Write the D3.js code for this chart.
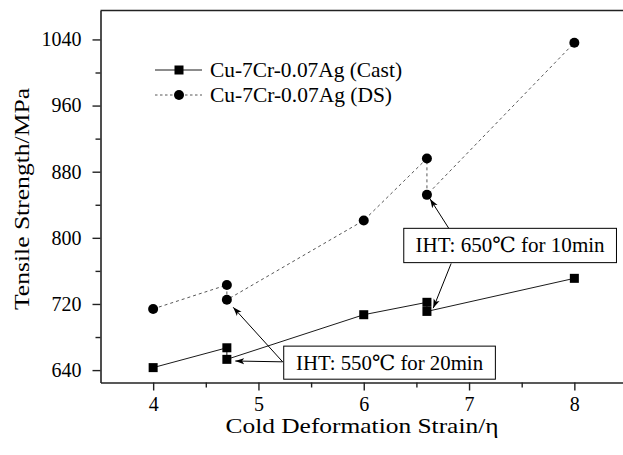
<!DOCTYPE html>
<html lang="en">
<head>
<meta charset="utf-8">
<title></title>
<script src="https://cdn.jsdelivr.net/npm/d3@7/dist/d3.min.js"></script>
<style>
  body { margin: 0; background: #fff; }
  svg text { font-family: "Liberation Serif", "Times New Roman", "DejaVu Serif", serif; fill: #000; }
</style>
</head>
<body>
<svg width="623" height="455"></svg>
<script>
// data
var castStrain = [4, 4.7, 4.7, 6, 6.6, 6.6, 8];
var castStrength = [643, 667, 653, 707, 722, 711, 751];
var dsStrain = [4, 4.7, 4.7, 6, 6.6, 6.6, 8];
var dsStrength = [714, 743, 725, 821, 896, 852, 1036];
var xTicks = [4, 5, 6, 7, 8];
var yTicks = [640, 720, 800, 880, 960, 1040];
var seriesNames = ['Cu-7Cr-0.07Ag (Cast)', 'Cu-7Cr-0.07Ag (DS)'];

// annotation boxes and arrows, in data units
var noteBoxes = [
  {label: 'IHT: 550\u2103 for 20min', x0: 5.24, x1: 7.25, y0: 629, y1: 669, w: 187},
  {label: 'IHT: 650\u2103 for 10min', x0: 6.38, x1: 8.40, y0: 770, y1: 811.5, w: 189}
];
var noteArrows = [
  {x0: 5.23, y0: 650, x1: 4.78, y1: 651},
  {x0: 5.23, y0: 650, x1: 4.76, y1: 716},
  {x0: 6.81, y0: 811, x1: 6.63, y1: 847},
  {x0: 6.83, y0: 769, x1: 6.66, y1: 715}
];

var svg = d3.select('svg');
var x = d3.scaleLinear().domain([3.5, 8.5]).range([100.5, 627]);
var y = d3.scaleLinear().domain([625, 1075]).range([382.5, 10.5]);

// frame: top line, left and bottom axes (no right edge, it runs off the picture)
svg.append('line').attr('x1', x(3.5)).attr('x2', 623).attr('y1', y(1075)).attr('y2', y(1075))
  .attr('stroke', '#222').attr('stroke-width', 1.6);

var xAxis = svg.append('g').attr('transform', 'translate(0,' + y(625) + ')')
  .call(d3.axisBottom(x).tickValues(xTicks).tickFormat(d3.format('d')).tickSize(8).tickSizeOuter(0));
svg.append('g').attr('transform', 'translate(0,' + y(625) + ')')
  .call(d3.axisBottom(x).tickValues([4.5, 5.5, 6.5, 7.5]).tickFormat('').tickSize(5).tickSizeOuter(0))
  .select('.domain').remove();
var yAxis = svg.append('g').attr('transform', 'translate(' + x(3.5) + ',0)')
  .call(d3.axisLeft(y).tickValues(yTicks).tickFormat(d3.format('d')).tickSize(8).tickSizeOuter(0));
svg.append('g').attr('transform', 'translate(' + x(3.5) + ',0)')
  .call(d3.axisLeft(y).tickValues([680, 760, 840, 920, 1000]).tickFormat('').tickSize(5).tickSizeOuter(0))
  .select('.domain').remove();

svg.selectAll('.domain').attr('stroke', '#222').attr('stroke-width', 1.6);
svg.selectAll('.tick line').attr('stroke', '#222').attr('stroke-width', 1.4);
xAxis.selectAll('.tick text').attr('font-size', 20).attr('y', 28.5).attr('dy', 0);
yAxis.selectAll('.tick text').attr('font-size', 20).attr('x', -19);

// axis titles
svg.append('text').attr('x', 362).attr('y', 433).attr('text-anchor', 'middle')
  .attr('font-size', 21).attr('textLength', 273).attr('lengthAdjust', 'spacingAndGlyphs')
  .text('Cold Deformation Strain/\u03b7');
svg.append('text').attr('transform', 'translate(29,199) rotate(-90)').attr('text-anchor', 'middle')
  .attr('font-size', 22).attr('textLength', 222).attr('lengthAdjust', 'spacingAndGlyphs')
  .text('Tensile Strength/MPa');

// series lines
var cast = castStrain.map((d, i) => ({x: d, y: castStrength[i]}));
var ds = dsStrain.map((d, i) => ({x: d, y: dsStrength[i]}));
var line = d3.line().x(d => x(d.x)).y(d => y(d.y));

svg.append('path').datum(cast).attr('d', line)
  .attr('fill', 'none').attr('stroke', '#000').attr('stroke-width', 0.9);
svg.append('path').datum(ds).attr('d', line)
  .attr('fill', 'none').attr('stroke', '#444').attr('stroke-width', 0.9).attr('stroke-dasharray', '3,3');

svg.selectAll('rect.cast').data(cast).enter().append('rect').attr('class', 'cast')
  .attr('x', d => x(d.x) - 4.5).attr('y', d => y(d.y) - 4.5)
  .attr('width', 9).attr('height', 9).attr('fill', '#000');
svg.selectAll('circle.ds').data(ds).enter().append('circle').attr('class', 'ds')
  .attr('cx', d => x(d.x)).attr('cy', d => y(d.y)).attr('r', 5).attr('fill', '#000');

// legend
var legendWidths = [192, 182];
var legend = svg.append('g');
seriesNames.forEach((name, i) => {
  var ly = 70 + i * 25;
  legend.append('line').attr('x1', 155).attr('x2', 202).attr('y1', ly).attr('y2', ly)
    .attr('stroke', i ? '#444' : '#000').attr('stroke-width', 0.9)
    .attr('stroke-dasharray', i ? '2.5,2.5' : null);
  if (i) legend.append('circle').attr('cx', 179).attr('cy', ly).attr('r', 5).attr('fill', '#000');
  else legend.append('rect').attr('x', 174.5).attr('y', ly - 4.5).attr('width', 9).attr('height', 9).attr('fill', '#000');
  legend.append('text').attr('x', 210).attr('y', ly + 6.5).attr('font-size', 21)
    .attr('textLength', legendWidths[i]).attr('lengthAdjust', 'spacingAndGlyphs').text(name);
});

// annotations
svg.append('defs').append('marker').attr('id', 'arr')
  .attr('viewBox', '0 0 10 10').attr('refX', 10).attr('refY', 5)
  .attr('markerWidth', 9).attr('markerHeight', 9).attr('markerUnits', 'userSpaceOnUse')
  .attr('orient', 'auto')
  .append('path').attr('d', 'M0,1.5 L10,5 L0,8.5 L2.5,5 Z').attr('fill', '#000');

svg.selectAll('line.note').data(noteArrows).enter().append('line').attr('class', 'note')
  .attr('x1', d => x(d.x0)).attr('y1', d => y(d.y0))
  .attr('x2', d => x(d.x1)).attr('y2', d => y(d.y1))
  .attr('stroke', '#000').attr('stroke-width', 1).attr('marker-end', 'url(#arr)');

var boxes = svg.selectAll('g.note').data(noteBoxes).enter().append('g').attr('class', 'note');
boxes.append('rect')
  .attr('x', d => x(d.x0)).attr('y', d => y(d.y1))
  .attr('width', d => x(d.x1) - x(d.x0)).attr('height', d => y(d.y0) - y(d.y1))
  .attr('fill', '#fff').attr('stroke', '#000').attr('stroke-width', 1);
boxes.append('text')
  .attr('x', d => (x(d.x0) + x(d.x1)) / 2).attr('y', d => (y(d.y0) + y(d.y1)) / 2 + 7)
  .attr('text-anchor', 'middle').attr('font-size', 21)
  .attr('textLength', d => d.w).attr('lengthAdjust', 'spacingAndGlyphs').text(d => d.label);
</script>
</body>
</html>
